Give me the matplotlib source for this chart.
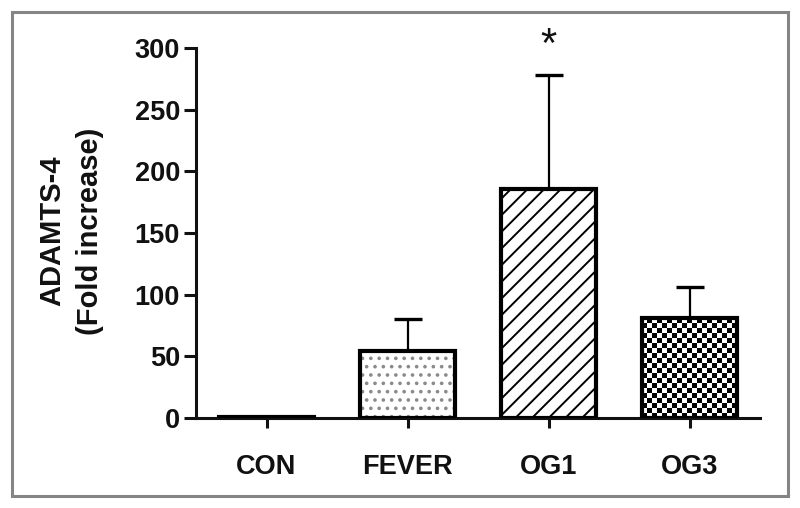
import numpy as np
import matplotlib
matplotlib.use("Agg")
import matplotlib.pyplot as plt
from matplotlib.patches import Rectangle

categories = ["CON", "FEVER", "OG1", "OG3"]
means = [1, 54, 186, 81]
sem = [0, 26, 92, 25]
yticks = [0, 50, 100, 150, 200, 250, 300]
hatches = [None, "..", "//", "checker"]
signif = [None, None, "*", None]

plt.rcParams["font.family"] = ["Liberation Sans", "DejaVu Sans"]
plt.rcParams["hatch.linewidth"] = 1.4

W, H = 800, 508
fig = plt.figure(figsize=(W / 100, H / 100), dpi=100)
fig.patch.set_facecolor("white")

# outer frame
fig.patches.append(Rectangle((12 / W, 1 - 496 / H), (788 - 12) / W, (496 - 12) / H,
                             transform=fig.transFigure, fill=False,
                             edgecolor="#858585", linewidth=2.2))

ax = fig.add_axes([196 / W, 1 - 418 / H, (760 - 196) / W, (418 - 48) / H])
x = np.arange(len(categories))
bw = 0.67

# error bars (upper only)
ax.errorbar(x, means, yerr=[np.zeros(len(sem)), sem], fmt="none", ecolor="black",
            elinewidth=1.6, capsize=10, capthick=2.4, zorder=1.5)

bars = ax.bar(x, means, width=bw, color="white", edgecolor="none", linewidth=0, zorder=2)
for b, h in zip(bars, hatches):
    if h == "..":
        ax.bar(b.get_x() + b.get_width() / 2, b.get_height(), width=bw, color="white",
               edgecolor="#8a8a8a", linewidth=0, hatch=h, zorder=2.1)
    elif h == "//":
        ax.bar(b.get_x() + b.get_width() / 2, b.get_height(), width=bw, color="white",
               edgecolor="black", linewidth=0, hatch=h, zorder=2.1)

ax.set_xlim(-0.5, 3.5)
ax.set_ylim(0, 300)

# checkerboard fill
fig.canvas.draw()
for b, h in zip(bars, hatches):
    if h == "checker":
        x0, y0 = b.get_x(), b.get_y()
        x1, y1 = x0 + b.get_width(), y0 + b.get_height()
        p0 = ax.transData.transform((x0, y0))
        p1 = ax.transData.transform((x1, y1))
        nx = max(1, int(round((p1[0] - p0[0]) / 5.0)))
        ny = max(1, int(round((p1[1] - p0[1]) / 5.0)))
        ii, jj = np.indices((ny, nx))
        img = ((ii + jj) % 2).astype(float)
        im = ax.imshow(img, cmap="gray", vmin=0, vmax=1, extent=[x0, x1, y0, y1],
                       interpolation="nearest", aspect="auto", zorder=2.1, origin="lower")
        im.set_clip_path(b)

ax.set_xlim(-0.5, 3.5)
ax.set_ylim(0, 300)

# outlines
ax.bar(x, means, width=bw, fill=False, edgecolor="black", linewidth=3.0, zorder=3)

for xi, m, s, t in zip(x, means, sem, signif):
    if t:
        ax.annotate(t, (xi, m + s), xytext=(0, 13), textcoords="offset points",
                    ha="center", va="baseline", fontsize=30, color="#111111")

for side in ["top", "right"]:
    ax.spines[side].set_visible(False)
for side in ["left", "bottom"]:
    ax.spines[side].set_linewidth(2.2)
    ax.spines[side].set_color("#111111")

ax.set_yticks(yticks)
ax.set_yticklabels([str(v) for v in yticks], fontsize=19.5, fontweight="bold", color="#111111")
ax.set_xticks(x)
ax.set_xticklabels(categories, fontsize=19.5, fontweight="bold", color="#111111")
ax.tick_params(axis="y", length=8.5, width=2.2, pad=3, color="#111111")
ax.tick_params(axis="x", length=7, width=2.2, pad=19, color="#111111")

fig.text(71 / W, 1 - 231 / H, "ADAMTS-4\n(Fold increase)", rotation=90, ha="center",
         va="center", multialignment="center", fontsize=21, fontweight="bold",
         linespacing=1.45, color="#111111")

fig.savefig("out.png", dpi=100, facecolor="white")
